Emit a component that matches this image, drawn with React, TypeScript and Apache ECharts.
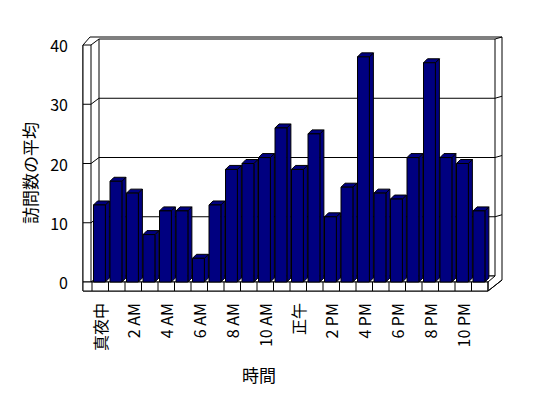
import React, { useEffect, useRef } from "react";
import * as echarts from "echarts";

const hours: string[] = [
  "真夜中", "1 AM", "2 AM", "3 AM", "4 AM", "5 AM", "6 AM", "7 AM", "8 AM", "9 AM", "10 AM", "11 AM",
  "正午", "1 PM", "2 PM", "3 PM", "4 PM", "5 PM", "6 PM", "7 PM", "8 PM", "9 PM", "10 PM", "11 PM",
];
const visits: number[] = [13, 17, 15, 8, 12, 12, 4, 13, 19, 20, 21, 26, 19, 25, 11, 16, 38, 15, 14, 21, 37, 21, 20, 12];
const yTicks: number[] = [0, 10, 20, 30, 40];
const xTitle = "時間";
const yTitle = "訪問数の平均";

const FONT = "'Noto Sans CJK JP', 'Liberation Sans', sans-serif";
const NAVY = "#000080";

export default function App() {
  const ref = useRef<HTMLDivElement>(null);
  useEffect(() => {
    if (!ref.current) return;
    const chart = echarts.init(ref.current, undefined, { renderer: "svg" });
    const yMax = yTicks[yTicks.length - 1];

    const frameItem = (params: any, api: any) => {
      const cs = params.coordSys;
      const gx0 = cs.x;
      const gx1 = cs.x + cs.width;
      const gy0 = api.coord([0, 0])[1];
      const gyT = api.coord([0, yMax])[1];
      const dx = 7, dy = -6;
      const ln = { stroke: "#000", lineWidth: 1, fill: null };
      const children: any[] = [];
      children.push({
        type: "polygon",
        shape: {
          points: [
            [gx0 - 9, gyT], [gx0 - 2, gyT - 8], [gx1 + 14, gyT - 8], [gx1 + 14, gy0 - 2],
            [gx1, gy0 + 9], [gx0 - 9, gy0 + 9],
          ],
        },
        style: { fill: "#fff", stroke: "#000", lineWidth: 1 },
      });
      children.push({
        type: "rect",
        shape: { x: gx0 + dx, y: gyT + dy, width: gx1 - gx0, height: gy0 - gyT },
        style: { fill: "#fff", stroke: "#000", lineWidth: 1 },
      });
      children.push({
        type: "rect",
        shape: { x: gx0 - 9, y: gyT, width: 8, height: gy0 - gyT },
        style: { fill: "#fff", stroke: "#000", lineWidth: 1 },
      });
      children.push({ type: "line", shape: { x1: gx0 - 1, y1: gyT, x2: gx0 + dx, y2: gyT + dy }, style: ln });
      children.push({ type: "line", shape: { x1: gx1 + dx, y1: gyT + dy, x2: gx1 + 14, y2: gyT - 8 }, style: ln });
      children.push({
        type: "polygon",
        shape: { points: [[gx0 - 1, gy0], [gx1, gy0], [gx1 + dx, gy0 + dy], [gx0 + dx, gy0 + dy]] },
        style: { fill: "#fff", stroke: "#000", lineWidth: 1 },
      });
      children.push({
        type: "rect",
        shape: { x: gx0 - 9, y: gy0, width: gx1 - gx0 + 9, height: 9 },
        style: { fill: "#fff", stroke: "#000", lineWidth: 1 },
      });
      const band = cs.width / hours.length;
      for (let i = 0; i <= hours.length; i++) {
        const x = gx0 + i * band;
        children.push({ type: "line", shape: { x1: x, y1: gy0, x2: x, y2: gy0 + 9 }, style: ln });
      }
      children.push({ type: "line", shape: { x1: gx1, y1: gy0 + 9, x2: gx1 + 14, y2: gy0 - 2 }, style: ln });
      yTicks.forEach((t) => {
        if (t === 0 || t === yMax) return;
        const y = api.coord([0, t])[1];
        children.push({
          type: "polyline",
          shape: {
            points: [[gx0 - 9, y], [gx0 - 1, y], [gx0 + dx, y + dy], [gx1 + dx, y + dy], [gx1 + 14, y - 8]],
          },
          style: ln,
        });
      });
      return { type: "group", children };
    };

    const barItem = (params: any, api: any) => {
      const i = api.value(0);
      const v = api.value(1);
      const top = api.coord([i, v]);
      const base = api.coord([i, 0]);
      const band = api.size([1, 0])[0];
      const left = top[0] - band / 2 + 1.5;
      const w = band * 0.72;
      const dx = 4, dy = -4;
      const y0 = top[1];
      const yb = base[1];
      const st = { fill: NAVY, stroke: "#000", lineWidth: 1 };
      return {
        type: "group",
        children: [
          {
            type: "polygon",
            shape: { points: [[left + w, y0], [left + w + dx, y0 + dy], [left + w + dx, yb + dy], [left + w, yb]] },
            style: st,
          },
          {
            type: "polygon",
            shape: { points: [[left, y0], [left + w, y0], [left + w + dx, y0 + dy], [left + dx, y0 + dy]] },
            style: st,
          },
          { type: "rect", shape: { x: left, y: y0, width: w, height: yb - y0 }, style: st },
        ],
      };
    };

    chart.setOption({
      animation: false,
      textStyle: { fontFamily: FONT },
      grid: { left: 92, right: 60, top: 45, bottom: 116 },
      xAxis: {
        type: "category",
        data: hours,
        axisLine: { show: false },
        axisTick: { show: false },
        axisLabel: {
          interval: 1,
          rotate: 90,
          margin: 21,
          color: "#000",
          fontSize: 16,
          fontFamily: FONT,
        },
      },
      yAxis: {
        type: "value",
        min: 0,
        max: yMax,
        interval: 10,
        axisLine: { show: false },
        axisTick: { show: false },
        splitLine: { show: false },
        axisLabel: { margin: 24, color: "#000", fontSize: 16, fontFamily: FONT },
      },
      graphic: [
        {
          type: "text",
          x: 259,
          y: 374,
          style: { text: xTitle, fontSize: 17, fontFamily: FONT, fill: "#000", align: "center", verticalAlign: "middle" },
        },
        {
          type: "text",
          x: 29,
          y: 173,
          rotation: Math.PI / 2,
          style: { text: yTitle, fontSize: 17, fontFamily: FONT, fill: "#000", align: "center", verticalAlign: "middle" },
        },
      ],
      series: [
        {
          type: "custom",
          z: 1,
          clip: false,
          silent: true,
          renderItem: frameItem,
          data: [[0, 0]],
        },
        {
          type: "custom",
          z: 2,
          clip: false,
          renderItem: barItem,
          encode: { x: 0, y: 1 },
          data: visits.map((v, i) => [i, v]),
        },
      ],
    });
    return () => chart.dispose();
  }, []);
  return (
    <div
      ref={ref}
      style={{ position: "fixed", left: 0, top: 0, width: 548, height: 398, background: "#fff" }}
    />
  );
}
